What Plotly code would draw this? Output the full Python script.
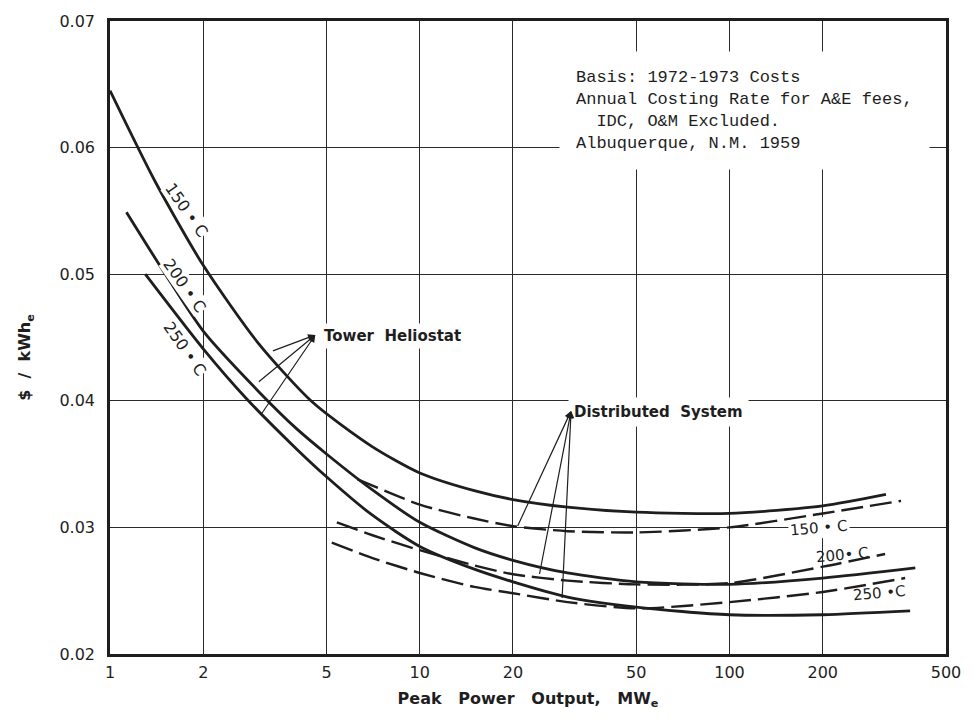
import numpy as np
import plotly.graph_objects as go

# ---------------- data ----------------
tower150_x = [1.0, 1.4, 2.0, 3.0, 4.5, 7.0, 10, 15, 20, 30, 50, 100, 200, 320]
tower150_y = [0.0645, 0.0573, 0.0507, 0.0446, 0.0399, 0.0364, 0.0343, 0.0329, 0.0322, 0.0316, 0.0312, 0.0311, 0.0317, 0.0326]

tower200_x = [1.13, 1.5, 2.0, 3.0, 4.0, 5.0, 7.0, 10, 15, 20, 30, 50, 100, 200, 398]
tower200_y = [0.0549, 0.0501, 0.0455, 0.0408, 0.0378, 0.0358, 0.0330, 0.0304, 0.0284, 0.0274, 0.0264, 0.0257, 0.0255, 0.0260, 0.0268]

tower250_x = [1.30, 2.0, 2.75, 4.0, 5.0, 7.0, 10, 15, 20, 30, 50, 100, 200, 383]
tower250_y = [0.0500, 0.0441, 0.0402, 0.0362, 0.0340, 0.0310, 0.0285, 0.0267, 0.0257, 0.0245, 0.0237, 0.0231, 0.0231, 0.0234]

dist150_x = [6.3, 10, 15, 20, 30, 50, 100, 200, 358]
dist150_y = [0.0338, 0.0318, 0.0307, 0.0301, 0.0297, 0.0296, 0.0300, 0.0311, 0.0321]

dist200_x = [5.4, 7.0, 10, 15, 20, 30, 50, 100, 200, 318]
dist200_y = [0.0304, 0.0294, 0.0282, 0.0270, 0.0263, 0.0258, 0.0255, 0.0256, 0.0269, 0.0279]

dist250_x = [5.2, 7.0, 10, 15, 20, 30, 50, 100, 200, 369]
dist250_y = [0.0288, 0.0276, 0.0264, 0.0253, 0.0248, 0.0241, 0.0236, 0.0241, 0.0249, 0.0260]

x_ticks = [1, 2, 5, 10, 20, 50, 100, 200, 500]
x_ticktext = ["1", "2", "5", "10", "20", "50", "100", "200", "500"]
y_ticks = [0.02, 0.03, 0.04, 0.05, 0.06, 0.07]
y_ticktext = ["0.02", "0.03", "0.04", "0.05", "0.06", "0.07"]

note_lines = ["Basis: 1972-1973 Costs",
              "Annual Costing Rate for A&E fees,",
              "\u00a0\u00a0IDC, O&M Excluded.",
              "Albuquerque, N.M. 1959"]

# label anchors (data coords)
note_anchor = (28.1, 0.0629)
tower_label = (8.15, 0.0451)
tower_tail = (4.6, 0.0452)
tower_targets = [(3.32, 0.0439), (2.99, 0.0414), (3.05, 0.0388)]
dist_label = (59, 0.0391)
dist_tail = (30.8, 0.0392)
dist_targets = [(20.6, 0.0300), (24.3, 0.0262), (28.8, 0.0243)]

left_labels = [("150\u00a0\u2022\u00a0C", 1.76, 0.0551), ("200\u00a0\u2022\u00a0C", 1.74, 0.0491), ("250\u00a0\u2022\u00a0C", 1.74, 0.0441)]
right_labels = [("150\u00a0\u2022\u00a0C", 194, 0.02995, True), ("200\u2022\u00a0C", 231, 0.0278, False), ("250\u00a0\u2022C", 306, 0.0248, False)]

# ---------------- figure ----------------
INK = "#1e1e1e"
SANS = "'DejaVu Sans', sans-serif"
fig = go.Figure()

for xs, ys in [(tower150_x, tower150_y), (tower200_x, tower200_y), (tower250_x, tower250_y)]:
    fig.add_trace(go.Scatter(x=xs, y=ys, mode="lines",
                             line=dict(color=INK, width=2.8, shape="spline", smoothing=0.7),
                             showlegend=False, hoverinfo="skip"))
for xs, ys in [(dist150_x, dist150_y), (dist200_x, dist200_y), (dist250_x, dist250_y)]:
    fig.add_trace(go.Scatter(x=xs, y=ys, mode="lines",
                             line=dict(color=INK, width=2.4, dash="22px,7px", shape="spline", smoothing=0.7),
                             showlegend=False, hoverinfo="skip"))

LBL_FONT = dict(family=SANS, size=15, color=INK)

ann = []
# note box
ann.append(dict(xref="x", yref="y", x=np.log10(note_anchor[0]), y=note_anchor[1],
                xanchor="left", yanchor="middle",
                text="<br>".join(note_lines), showarrow=False, align="left",
                font=dict(family="'Liberation Mono', monospace", size=17, color=INK),
                bgcolor="white", borderpad=16))

# Tower heliostat label & arrows
ann.append(dict(xref="x", yref="y", x=np.log10(tower_label[0]), y=tower_label[1],
                text="Tower\u00a0\u00a0Heliostat", showarrow=False, font=dict(LBL_FONT, weight="bold"),
                bgcolor="white", borderpad=3))
for tx, ty in tower_targets:
    ann.append(dict(xref="x", yref="y", axref="x", ayref="y",
                    x=np.log10(tower_tail[0]), y=tower_tail[1],
                    ax=np.log10(tx), ay=ty, text="", showarrow=True,
                    arrowhead=2, arrowsize=1.2, arrowwidth=1.2, arrowcolor=INK))

# Distributed system label & arrows
ann.append(dict(xref="x", yref="y", x=np.log10(dist_label[0]), y=dist_label[1],
                text="Distributed\u00a0\u00a0System", showarrow=False, font=dict(LBL_FONT, weight="bold"),
                bgcolor="white", borderpad=5))
for tx, ty in dist_targets:
    ann.append(dict(xref="x", yref="y", axref="x", ayref="y",
                    x=np.log10(dist_tail[0]), y=dist_tail[1],
                    ax=np.log10(tx), ay=ty, text="", showarrow=True,
                    arrowhead=2, arrowsize=1.2, arrowwidth=1.2, arrowcolor=INK))

# rotated labels on the left curves
for t, lx, ly in left_labels:
    ann.append(dict(xref="x", yref="y", x=np.log10(lx), y=ly, text=t, showarrow=False,
                    textangle=55, font=dict(LBL_FONT, size=16), bgcolor="white", borderpad=0))

# labels at right end
for t, lx, ly, bg in right_labels:
    ann.append(dict(xref="x", yref="y", x=np.log10(lx), y=ly, text=t, showarrow=False,
                    textangle=-5, font=dict(LBL_FONT, size=15),
                    bgcolor="white" if bg else "rgba(0,0,0,0)", borderpad=1))

# y-axis title
ann.append(dict(xref="paper", yref="paper", x=-0.101, y=0.469, xanchor="center", yanchor="middle",
                text="$\u00a0\u00a0/\u00a0\u00a0kWh<sub>e</sub>", textangle=-90, showarrow=False,
                font=dict(family=SANS, size=16, color=INK, weight="bold")))

fig.update_layout(
    width=973, height=720,
    margin=dict(l=110, r=25, t=17, b=66),
    paper_bgcolor="white", plot_bgcolor="white",
    annotations=ann,
    showlegend=False,
    xaxis=dict(type="log", range=[0, np.log10(500)], tickvals=x_ticks, ticktext=x_ticktext,
               showgrid=True, gridcolor="#2a2a2a", gridwidth=1.3,
               showline=True, linecolor=INK, linewidth=2.6, mirror=True,
               ticks="", ticklabelstandoff=2,
               tickfont=dict(family=SANS, size=16, color=INK),
               title=dict(text="Peak\u00a0\u00a0\u00a0Power\u00a0\u00a0\u00a0Output,\u00a0\u00a0\u00a0MW<sub>e</sub>",
                          font=dict(family=SANS, size=16, color=INK, weight="bold"),
                          standoff=12),
               zeroline=False),
    yaxis=dict(range=[0.02, 0.07], tickvals=y_ticks, ticktext=y_ticktext,
               showgrid=True, gridcolor="#2a2a2a", gridwidth=1.3,
               showline=True, linecolor=INK, linewidth=2.6, mirror=True,
               ticks="", ticklabelstandoff=9,
               tickfont=dict(family=SANS, size=16, color=INK),
               zeroline=False),
)

fig.write_html("out.html")
